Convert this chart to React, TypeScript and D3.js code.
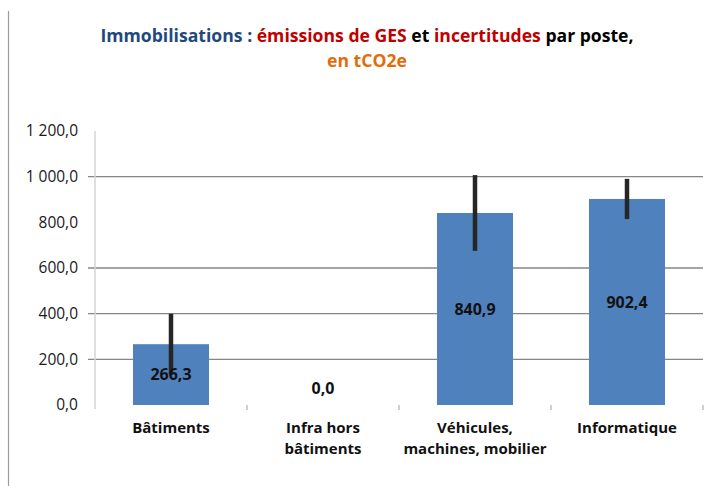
import React from "react";
import * as d3 from "d3";

// data
const categories = [
  ["Bâtiments"],
  ["Infra hors", "bâtiments"],
  ["Véhicules,", "machines, mobilier"],
  ["Informatique"],
];
const emissions = [266.3, 0.0, 840.9, 902.4];
const uncertainty = [133, 0, 166, 88];
const yTicks = [0, 200, 400, 600, 800, 1000, 1200];
const gridValues = [200, 400, 600, 1000];

const W = 717;
const H = 486;
const margin = { left: 95, right: 14, top: 131, bottom: 81 };

const fr = d3.formatLocale({
  decimal: ",",
  thousands: " ",
  grouping: [3],
  currency: ["", " €"],
});
const fmt = fr.format(",.1f");

const FONT = "'Open Sans', Lato, sans-serif";

export default function App() {
  const x = d3
    .scaleBand<number>()
    .domain(d3.range(categories.length))
    .range([margin.left, W - margin.right])
    .paddingInner(0.5)
    .paddingOuter(0.25);
  const y = d3
    .scaleLinear()
    .domain([0, 1200])
    .range([H - margin.bottom, margin.top]);

  const band = (W - margin.right - margin.left) / categories.length;
  const base = y(0);

  return (
    <svg
      width={W}
      height={H}
      style={{ position: "absolute", left: 0, top: 0, background: "#fff" }}
      fontFamily={FONT}
    >
      <rect width={W} height={H} fill="#fff" />
      {/* chart border (left edge only visible) */}
      <line x1={8.5} x2={8.5} y1={11} y2={H} stroke="#9a9a9a" strokeWidth={1.2} />

      {/* title */}
      <text x={367} y={42} textAnchor="middle" fontSize={17.6} fontWeight={700}>
        <tspan fill="#1F497D">Immobilisations : </tspan>
        <tspan fill="#C00000">émissions de GES </tspan>
        <tspan fill="#000">et </tspan>
        <tspan fill="#C00000">incertitudes </tspan>
        <tspan fill="#000">par poste,</tspan>
      </text>
      <text x={367} y={67} textAnchor="middle" fontSize={17.6} fontWeight={700} fill="#E46C0A">
        en tCO2e
      </text>

      {/* gridlines */}
      {gridValues.map((v) => (
        <line
          key={v}
          x1={margin.left - 7}
          x2={W - margin.right}
          y1={y(v)}
          y2={y(v)}
          stroke="#868686"
          strokeWidth={1.3}
        />
      ))}

      {/* y axis */}
      <line
        x1={margin.left}
        x2={margin.left}
        y1={y(1200)}
        y2={base + 4}
        stroke="#d4d4d4"
        strokeWidth={1.5}
      />
      {yTicks.map((v) => (
        <text
          key={v}
          x={78}
          y={y(v)}
          dy="0.35em"
          textAnchor="end"
          fontSize={15.5}
          fill="#1a1a1a"
        >
          {fmt(v)}
        </text>
      ))}

      {/* x ticks between categories */}
      {d3.range(1, categories.length + 1).map((i) => (
        <line
          key={i}
          x1={margin.left + band * i}
          x2={margin.left + band * i}
          y1={base}
          y2={base + 5}
          stroke="#b0b0b0"
          strokeWidth={1.2}
        />
      ))}

      {/* bars */}
      {emissions.map((v, i) => (
        <rect
          key={i}
          x={x(i)!}
          y={y(v)}
          width={x.bandwidth()}
          height={base - y(v)}
          fill="#4F81BD"
        />
      ))}

      {/* error bars */}
      {emissions.map((v, i) =>
        uncertainty[i] > 0 ? (
          <line
            key={i}
            x1={x(i)! + x.bandwidth() / 2}
            x2={x(i)! + x.bandwidth() / 2}
            y1={y(v + uncertainty[i])}
            y2={y(v - uncertainty[i])}
            stroke="#262626"
            strokeWidth={4.5}
          />
        ) : null
      )}

      {/* value labels */}
      {emissions.map((v, i) => (
        <text
          key={i}
          x={x(i)! + x.bandwidth() / 2}
          y={v > 0 ? (y(v) + base) / 2 : base - 17}
          dy="0.35em"
          textAnchor="middle"
          fontSize={16}
          fontWeight={700}
          fill="#111"
        >
          {fmt(v)}
        </text>
      ))}

      {/* category labels */}
      {categories.map((lines, i) => (
        <text
          key={i}
          x={x(i)! + x.bandwidth() / 2}
          y={428}
          textAnchor="middle"
          fontSize={15}
          fontWeight={700}
          fill="#111"
        >
          {lines.map((l, j) => (
            <tspan key={j} x={x(i)! + x.bandwidth() / 2} y={428 + j * 21} dy="0.35em">
              {l}
            </tspan>
          ))}
        </text>
      ))}
    </svg>
  );
}
